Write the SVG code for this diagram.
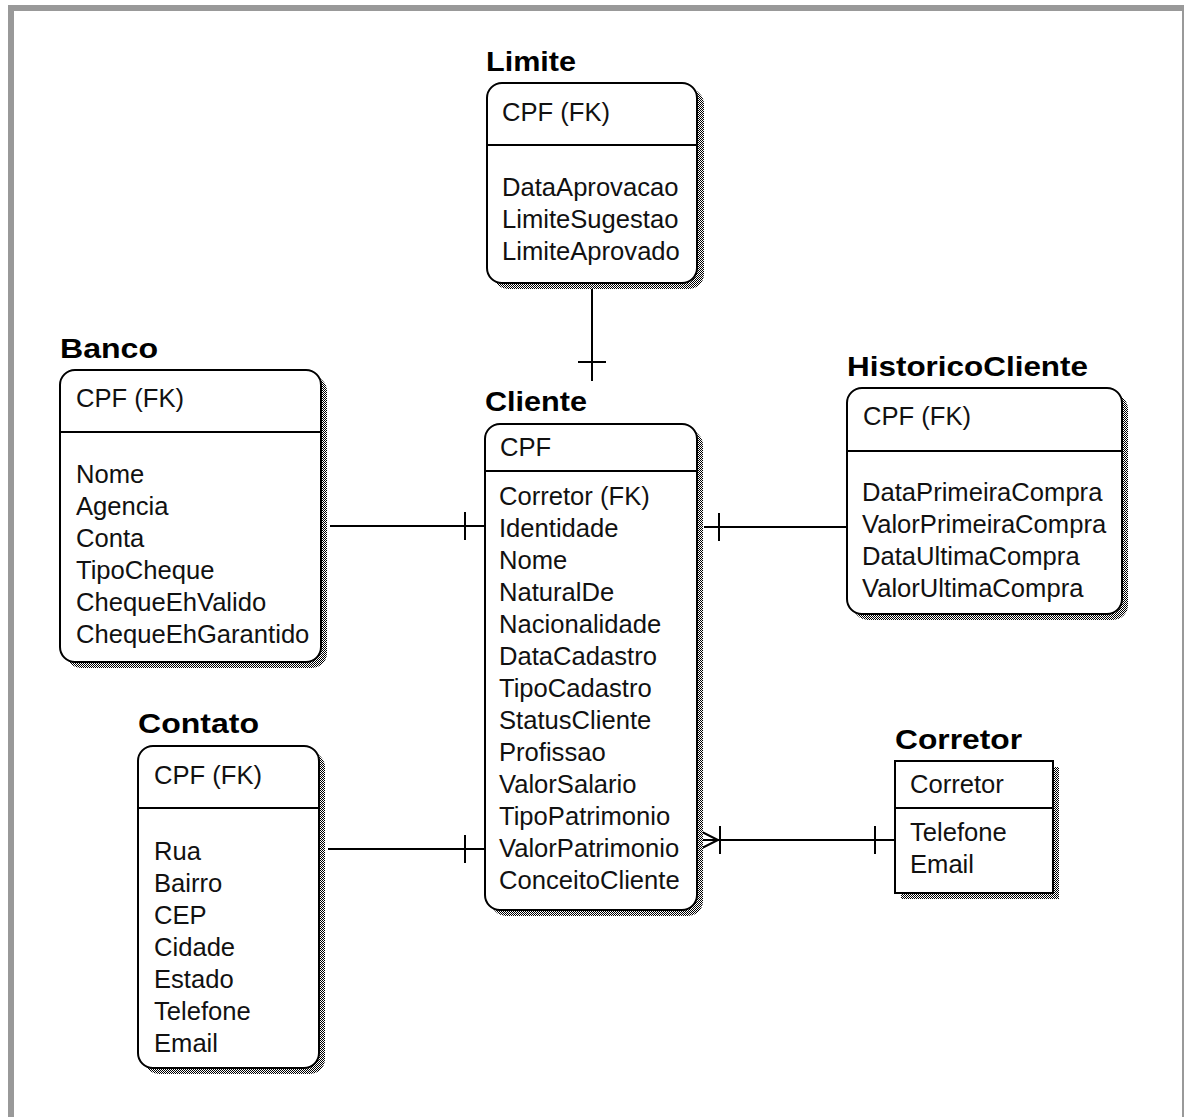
<svg xmlns="http://www.w3.org/2000/svg" width="1184" height="1117" viewBox="0 0 1184 1117">
<defs>
<pattern id="dither" width="2" height="2" patternUnits="userSpaceOnUse">
<rect width="2" height="2" fill="#ffffff"/>
<rect x="0" y="0" width="1" height="1" fill="#000"/>
<rect x="1" y="1" width="1" height="1" fill="#000"/>
</pattern>
</defs>
<style>
.title{font-family:"Liberation Sans",Arial,sans-serif;font-weight:bold;font-size:28px;fill:#000}
.attr{font-family:"Liberation Sans",Arial,sans-serif;font-size:25.6px;fill:#111}
.box{fill:#fff;stroke:#000;stroke-width:2}
.shadow{fill:url(#dither);stroke:none}
.div{stroke:#000;stroke-width:2}
.conn{stroke:#000;stroke-width:2;fill:none}
</style>
<rect x="0" y="0" width="1184" height="1117" fill="#fff"/>
<rect x="11" y="8" width="1174" height="1130" fill="none" stroke="#999" stroke-width="6"/>

<g id="connectors">
<line class="conn" x1="592" y1="284" x2="592" y2="381"/>
<line class="conn" x1="578" y1="362" x2="606" y2="362"/>
<line class="conn" x1="330" y1="526" x2="485" y2="526"/>
<line class="conn" x1="465" y1="512" x2="465" y2="540"/>
<line class="conn" x1="704" y1="527" x2="847" y2="527"/>
<line class="conn" x1="719" y1="513" x2="719" y2="541"/>
<line class="conn" x1="328" y1="849" x2="485" y2="849"/>
<line class="conn" x1="465" y1="835" x2="465" y2="863"/>
<line class="conn" x1="699" y1="840" x2="895" y2="840"/>
<line class="conn" x1="720" y1="826" x2="720" y2="854"/>
<line class="conn" x1="875" y1="826" x2="875" y2="854"/>
<polyline class="conn" points="700,831 718,840 700,849"/>
</g>

<g id="Limite">
<text class="title" x="486" y="71" textLength="90" lengthAdjust="spacingAndGlyphs">Limite</text>
<rect class="shadow" x="493" y="89" width="211" height="200" rx="15"/>
<rect class="box" x="487" y="83" width="210" height="200" rx="15"/>
<line class="div" x1="487" y1="145" x2="697" y2="145"/>
<text class="attr" x="502" y="121">CPF (FK)</text>
<text class="attr" x="502" y="196">DataAprovacao</text>
<text class="attr" x="502" y="228">LimiteSugestao</text>
<text class="attr" x="502" y="260">LimiteAprovado</text>
</g>

<g id="Cliente">
<text class="title" x="485" y="411" textLength="102" lengthAdjust="spacingAndGlyphs">Cliente</text>
<rect class="shadow" x="491" y="430" width="212" height="486" rx="15"/>
<rect class="box" x="485" y="424" width="212" height="486" rx="15"/>
<line class="div" x1="485" y1="471" x2="697" y2="471"/>
<text class="attr" x="500" y="456">CPF</text>
<text class="attr" x="499" y="505">Corretor (FK)</text>
<text class="attr" x="499" y="537">Identidade</text>
<text class="attr" x="499" y="569">Nome</text>
<text class="attr" x="499" y="601">NaturalDe</text>
<text class="attr" x="499" y="633">Nacionalidade</text>
<text class="attr" x="499" y="665">DataCadastro</text>
<text class="attr" x="499" y="697">TipoCadastro</text>
<text class="attr" x="499" y="729">StatusCliente</text>
<text class="attr" x="499" y="761">Profissao</text>
<text class="attr" x="499" y="793">ValorSalario</text>
<text class="attr" x="499" y="825">TipoPatrimonio</text>
<text class="attr" x="499" y="857">ValorPatrimonio</text>
<text class="attr" x="499" y="889">ConceitoCliente</text>
</g>

<g id="Banco">
<text class="title" x="60" y="358" textLength="98" lengthAdjust="spacingAndGlyphs">Banco</text>
<rect class="shadow" x="66" y="376" width="261" height="292" rx="15"/>
<rect class="box" x="60" y="370" width="261" height="292" rx="15"/>
<line class="div" x1="60" y1="432" x2="321" y2="432"/>
<text class="attr" x="76" y="407">CPF (FK)</text>
<text class="attr" x="76" y="483">Nome</text>
<text class="attr" x="76" y="515">Agencia</text>
<text class="attr" x="76" y="547">Conta</text>
<text class="attr" x="76" y="579">TipoCheque</text>
<text class="attr" x="76" y="611">ChequeEhValido</text>
<text class="attr" x="76" y="643">ChequeEhGarantido</text>
</g>

<g id="HistoricoCliente">
<text class="title" x="847" y="376" textLength="241" lengthAdjust="spacingAndGlyphs">HistoricoCliente</text>
<rect class="shadow" x="853" y="394" width="275" height="226" rx="15"/>
<rect class="box" x="847" y="388" width="275" height="226" rx="15"/>
<line class="div" x1="847" y1="451" x2="1122" y2="451"/>
<text class="attr" x="863" y="425">CPF (FK)</text>
<text class="attr" x="862" y="501">DataPrimeiraCompra</text>
<text class="attr" x="862" y="533">ValorPrimeiraCompra</text>
<text class="attr" x="862" y="565">DataUltimaCompra</text>
<text class="attr" x="862" y="597">ValorUltimaCompra</text>
</g>

<g id="Contato">
<text class="title" x="138" y="733" textLength="121" lengthAdjust="spacingAndGlyphs">Contato</text>
<rect class="shadow" x="144" y="752" width="181" height="322" rx="15"/>
<rect class="box" x="138" y="746" width="181" height="322" rx="15"/>
<line class="div" x1="138" y1="808" x2="319" y2="808"/>
<text class="attr" x="154" y="784">CPF (FK)</text>
<text class="attr" x="154" y="860">Rua</text>
<text class="attr" x="154" y="892">Bairro</text>
<text class="attr" x="154" y="924">CEP</text>
<text class="attr" x="154" y="956">Cidade</text>
<text class="attr" x="154" y="988">Estado</text>
<text class="attr" x="154" y="1020">Telefone</text>
<text class="attr" x="154" y="1052">Email</text>
</g>

<g id="Corretor">
<text class="title" x="895" y="749" textLength="127" lengthAdjust="spacingAndGlyphs">Corretor</text>
<rect class="shadow" x="901" y="767" width="158" height="132"/>
<rect class="box" x="895" y="761" width="158" height="132"/>
<line class="div" x1="895" y1="808" x2="1053" y2="808"/>
<text class="attr" x="910" y="793">Corretor</text>
<text class="attr" x="910" y="841">Telefone</text>
<text class="attr" x="910" y="873">Email</text>
</g>
</svg>
